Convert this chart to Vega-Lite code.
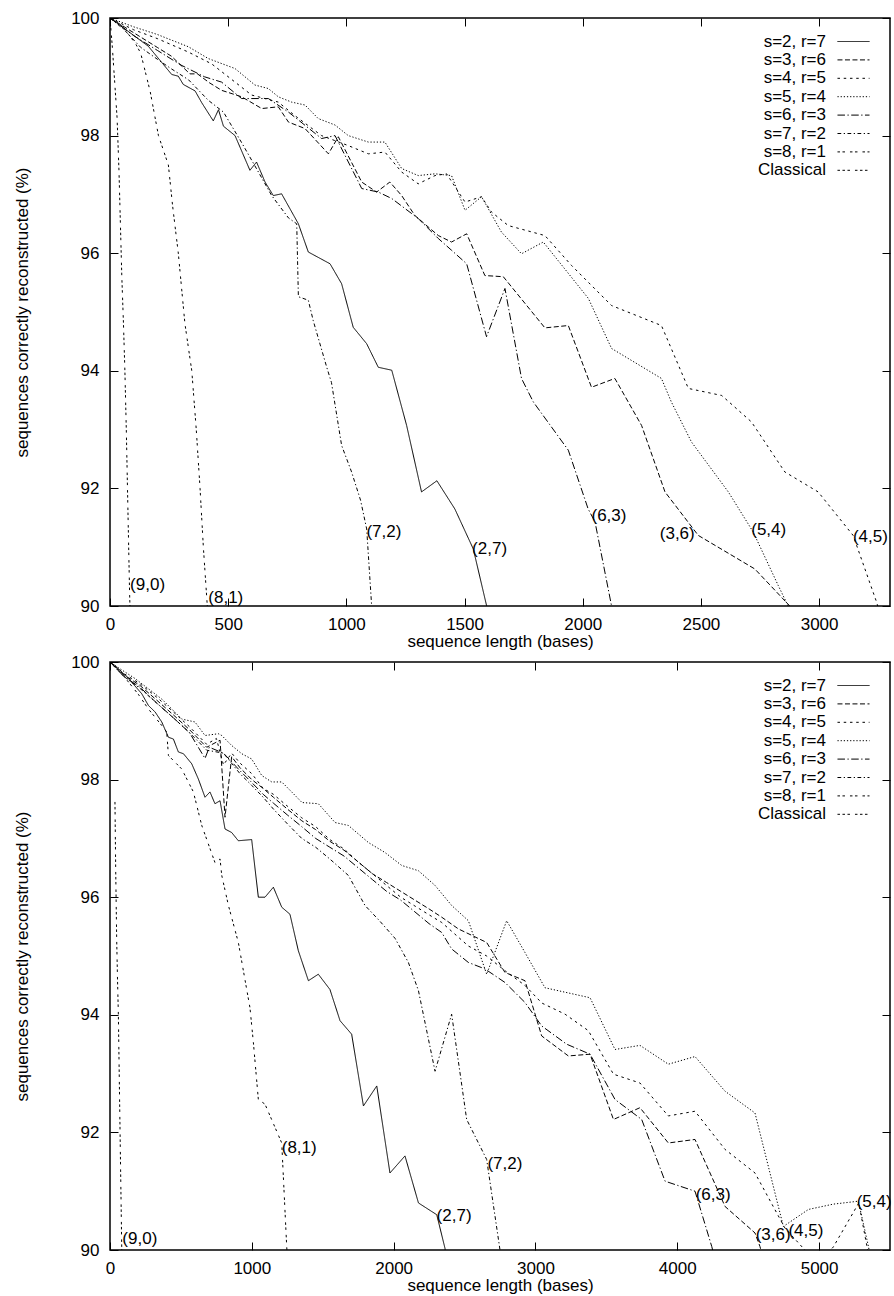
{
"$schema": "https://vega.github.io/schema/vega-lite/v6.json",
"background": "white",
"padding": {"left": 12, "top": 8, "right": 6, "bottom": 0},
"spacing": 56,
"bounds": "flush",
"datasets": {
"labels": [
{"p":"t","x":85,"y":90.36,"t":"(9,0)"},{"p":"t","x":416,"y":90.14,"t":"(8,1)"},{"p":"t","x":1085,"y":91.26,"t":"(7,2)"},{"p":"t","x":1532,"y":90.97,"t":"(2,7)"},{"p":"t","x":2037,"y":91.53,"t":"(6,3)"},{"p":"t","x":2326,"y":91.23,"t":"(3,6)"},{"p":"t","x":2713,"y":91.3,"t":"(5,4)"},{"p":"t","x":3143,"y":91.17,"t":"(4,5)"},
{"p":"b","x":87,"y":90.19,"t":"(9,0)"},{"p":"b","x":1211,"y":91.74,"t":"(8,1)"},{"p":"b","x":2303,"y":90.58,"t":"(2,7)"},{"p":"b","x":2661,"y":91.47,"t":"(7,2)"},{"p":"b","x":4130,"y":90.94,"t":"(6,3)"},{"p":"b","x":4553,"y":90.26,"t":"(3,6)"},{"p":"b","x":4784,"y":90.32,"t":"(4,5)"},{"p":"b","x":5265,"y":90.81,"t":"(5,4)"}
],
"curves": [
{"p":"t","s":"s=2, r=7","x":0,"y":100},{"p":"t","s":"s=2, r=7","x":21,"y":99.94},{"p":"t","s":"s=2, r=7","x":162,"y":99.52},{"p":"t","s":"s=2, r=7","x":261,"y":99.04},{"p":"t","s":"s=2, r=7","x":289,"y":99.01},{"p":"t","s":"s=2, r=7","x":310,"y":98.87},{"p":"t","s":"s=2, r=7","x":360,"y":98.76},{"p":"t","s":"s=2, r=7","x":388,"y":98.56},{"p":"t","s":"s=2, r=7","x":437,"y":98.25},{"p":"t","s":"s=2, r=7","x":459,"y":98.44},{"p":"t","s":"s=2, r=7","x":480,"y":98.16},{"p":"t","s":"s=2, r=7","x":529,"y":98.0},{"p":"t","s":"s=2, r=7","x":592,"y":97.41},{"p":"t","s":"s=2, r=7","x":620,"y":97.55},{"p":"t","s":"s=2, r=7","x":656,"y":97.21},{"p":"t","s":"s=2, r=7","x":691,"y":96.98},{"p":"t","s":"s=2, r=7","x":726,"y":97.01},{"p":"t","s":"s=2, r=7","x":797,"y":96.5},{"p":"t","s":"s=2, r=7","x":839,"y":96.02},{"p":"t","s":"s=2, r=7","x":931,"y":95.82},{"p":"t","s":"s=2, r=7","x":980,"y":95.48},{"p":"t","s":"s=2, r=7","x":1029,"y":94.74},{"p":"t","s":"s=2, r=7","x":1086,"y":94.46},{"p":"t","s":"s=2, r=7","x":1135,"y":94.06},{"p":"t","s":"s=2, r=7","x":1192,"y":94.01},{"p":"t","s":"s=2, r=7","x":1255,"y":93.07},{"p":"t","s":"s=2, r=7","x":1318,"y":91.94},{"p":"t","s":"s=2, r=7","x":1383,"y":92.13},{"p":"t","s":"s=2, r=7","x":1459,"y":91.65},{"p":"t","s":"s=2, r=7","x":1537,"y":90.97},{"p":"t","s":"s=2, r=7","x":1593,"y":90.01},{"p":"t","s":"s=2, r=7","x":1600,"y":89.88},
{"p":"t","s":"s=3, r=6","x":0,"y":100},{"p":"t","s":"s=3, r=6","x":100,"y":99.75},{"p":"t","s":"s=3, r=6","x":200,"y":99.5},{"p":"t","s":"s=3, r=6","x":260,"y":99.35},{"p":"t","s":"s=3, r=6","x":338,"y":99.05},{"p":"t","s":"s=3, r=6","x":370,"y":99.05},{"p":"t","s":"s=3, r=6","x":420,"y":98.9},{"p":"t","s":"s=3, r=6","x":472,"y":98.77},{"p":"t","s":"s=3, r=6","x":557,"y":98.66},{"p":"t","s":"s=3, r=6","x":642,"y":98.46},{"p":"t","s":"s=3, r=6","x":712,"y":98.49},{"p":"t","s":"s=3, r=6","x":755,"y":98.23},{"p":"t","s":"s=3, r=6","x":825,"y":98.12},{"p":"t","s":"s=3, r=6","x":924,"y":97.69},{"p":"t","s":"s=3, r=6","x":966,"y":97.98},{"p":"t","s":"s=3, r=6","x":1065,"y":97.21},{"p":"t","s":"s=3, r=6","x":1128,"y":97.04},{"p":"t","s":"s=3, r=6","x":1184,"y":97.21},{"p":"t","s":"s=3, r=6","x":1234,"y":96.98},{"p":"t","s":"s=3, r=6","x":1290,"y":96.64},{"p":"t","s":"s=3, r=6","x":1389,"y":96.3},{"p":"t","s":"s=3, r=6","x":1445,"y":96.19},{"p":"t","s":"s=3, r=6","x":1509,"y":96.33},{"p":"t","s":"s=3, r=6","x":1586,"y":95.62},{"p":"t","s":"s=3, r=6","x":1664,"y":95.6},{"p":"t","s":"s=3, r=6","x":1840,"y":94.73},{"p":"t","s":"s=3, r=6","x":1939,"y":94.77},{"p":"t","s":"s=3, r=6","x":2037,"y":93.72},{"p":"t","s":"s=3, r=6","x":2136,"y":93.87},{"p":"t","s":"s=3, r=6","x":2249,"y":93.07},{"p":"t","s":"s=3, r=6","x":2348,"y":91.94},{"p":"t","s":"s=3, r=6","x":2489,"y":91.2},{"p":"t","s":"s=3, r=6","x":2728,"y":90.63},{"p":"t","s":"s=3, r=6","x":2876,"y":90.0},{"p":"t","s":"s=3, r=6","x":2890,"y":89.9},
{"p":"t","s":"s=4, r=5","x":0,"y":100},{"p":"t","s":"s=4, r=5","x":100,"y":99.8},{"p":"t","s":"s=4, r=5","x":200,"y":99.65},{"p":"t","s":"s=4, r=5","x":332,"y":99.42},{"p":"t","s":"s=4, r=5","x":430,"y":99.22},{"p":"t","s":"s=4, r=5","x":529,"y":98.91},{"p":"t","s":"s=4, r=5","x":599,"y":98.69},{"p":"t","s":"s=4, r=5","x":712,"y":98.57},{"p":"t","s":"s=4, r=5","x":782,"y":98.34},{"p":"t","s":"s=4, r=5","x":895,"y":98.0},{"p":"t","s":"s=4, r=5","x":1008,"y":97.83},{"p":"t","s":"s=4, r=5","x":1093,"y":97.69},{"p":"t","s":"s=4, r=5","x":1163,"y":97.72},{"p":"t","s":"s=4, r=5","x":1234,"y":97.38},{"p":"t","s":"s=4, r=5","x":1304,"y":97.18},{"p":"t","s":"s=4, r=5","x":1375,"y":97.32},{"p":"t","s":"s=4, r=5","x":1424,"y":97.35},{"p":"t","s":"s=4, r=5","x":1502,"y":96.87},{"p":"t","s":"s=4, r=5","x":1572,"y":96.96},{"p":"t","s":"s=4, r=5","x":1614,"y":96.7},{"p":"t","s":"s=4, r=5","x":1685,"y":96.47},{"p":"t","s":"s=4, r=5","x":1840,"y":96.3},{"p":"t","s":"s=4, r=5","x":1953,"y":95.79},{"p":"t","s":"s=4, r=5","x":2122,"y":95.11},{"p":"t","s":"s=4, r=5","x":2333,"y":94.77},{"p":"t","s":"s=4, r=5","x":2447,"y":93.7},{"p":"t","s":"s=4, r=5","x":2588,"y":93.58},{"p":"t","s":"s=4, r=5","x":2714,"y":93.13},{"p":"t","s":"s=4, r=5","x":2855,"y":92.28},{"p":"t","s":"s=4, r=5","x":2996,"y":91.94},{"p":"t","s":"s=4, r=5","x":3144,"y":91.2},{"p":"t","s":"s=4, r=5","x":3243,"y":90.07},{"p":"t","s":"s=4, r=5","x":3255,"y":89.9},
{"p":"t","s":"s=5, r=4","x":0,"y":100},{"p":"t","s":"s=5, r=4","x":100,"y":99.85},{"p":"t","s":"s=5, r=4","x":200,"y":99.72},{"p":"t","s":"s=5, r=4","x":332,"y":99.51},{"p":"t","s":"s=5, r=4","x":416,"y":99.31},{"p":"t","s":"s=5, r=4","x":529,"y":99.14},{"p":"t","s":"s=5, r=4","x":613,"y":98.86},{"p":"t","s":"s=5, r=4","x":670,"y":98.8},{"p":"t","s":"s=5, r=4","x":712,"y":98.66},{"p":"t","s":"s=5, r=4","x":768,"y":98.57},{"p":"t","s":"s=5, r=4","x":825,"y":98.52},{"p":"t","s":"s=5, r=4","x":881,"y":98.29},{"p":"t","s":"s=5, r=4","x":952,"y":98.18},{"p":"t","s":"s=5, r=4","x":1008,"y":98.0},{"p":"t","s":"s=5, r=4","x":1093,"y":97.89},{"p":"t","s":"s=5, r=4","x":1163,"y":97.89},{"p":"t","s":"s=5, r=4","x":1234,"y":97.44},{"p":"t","s":"s=5, r=4","x":1304,"y":97.32},{"p":"t","s":"s=5, r=4","x":1375,"y":97.35},{"p":"t","s":"s=5, r=4","x":1445,"y":97.32},{"p":"t","s":"s=5, r=4","x":1502,"y":96.73},{"p":"t","s":"s=5, r=4","x":1572,"y":96.96},{"p":"t","s":"s=5, r=4","x":1656,"y":96.36},{"p":"t","s":"s=5, r=4","x":1741,"y":95.99},{"p":"t","s":"s=5, r=4","x":1833,"y":96.19},{"p":"t","s":"s=5, r=4","x":2024,"y":95.23},{"p":"t","s":"s=5, r=4","x":2122,"y":94.38},{"p":"t","s":"s=5, r=4","x":2333,"y":93.87},{"p":"t","s":"s=5, r=4","x":2375,"y":93.47},{"p":"t","s":"s=5, r=4","x":2460,"y":92.79},{"p":"t","s":"s=5, r=4","x":2616,"y":91.94},{"p":"t","s":"s=5, r=4","x":2721,"y":91.26},{"p":"t","s":"s=5, r=4","x":2827,"y":90.35},{"p":"t","s":"s=5, r=4","x":2869,"y":90.0},{"p":"t","s":"s=5, r=4","x":2880,"y":89.9},
{"p":"t","s":"s=6, r=3","x":0,"y":100},{"p":"t","s":"s=6, r=3","x":100,"y":99.7},{"p":"t","s":"s=6, r=3","x":200,"y":99.45},{"p":"t","s":"s=6, r=3","x":300,"y":99.2},{"p":"t","s":"s=6, r=3","x":400,"y":99.0},{"p":"t","s":"s=6, r=3","x":472,"y":98.91},{"p":"t","s":"s=6, r=3","x":557,"y":98.63},{"p":"t","s":"s=6, r=3","x":670,"y":98.63},{"p":"t","s":"s=6, r=3","x":755,"y":98.4},{"p":"t","s":"s=6, r=3","x":895,"y":97.95},{"p":"t","s":"s=6, r=3","x":952,"y":98.0},{"p":"t","s":"s=6, r=3","x":1065,"y":97.1},{"p":"t","s":"s=6, r=3","x":1135,"y":97.04},{"p":"t","s":"s=6, r=3","x":1192,"y":96.93},{"p":"t","s":"s=6, r=3","x":1304,"y":96.59},{"p":"t","s":"s=6, r=3","x":1389,"y":96.25},{"p":"t","s":"s=6, r=3","x":1445,"y":96.05},{"p":"t","s":"s=6, r=3","x":1509,"y":95.82},{"p":"t","s":"s=6, r=3","x":1593,"y":94.58},{"p":"t","s":"s=6, r=3","x":1671,"y":95.4},{"p":"t","s":"s=6, r=3","x":1741,"y":93.87},{"p":"t","s":"s=6, r=3","x":1791,"y":93.47},{"p":"t","s":"s=6, r=3","x":1939,"y":92.65},{"p":"t","s":"s=6, r=3","x":2023,"y":91.65},{"p":"t","s":"s=6, r=3","x":2052,"y":91.43},{"p":"t","s":"s=6, r=3","x":2122,"y":90.0},{"p":"t","s":"s=6, r=3","x":2130,"y":89.9},
{"p":"t","s":"s=7, r=2","x":0,"y":100},{"p":"t","s":"s=7, r=2","x":60,"y":99.8},{"p":"t","s":"s=7, r=2","x":130,"y":99.5},{"p":"t","s":"s=7, r=2","x":200,"y":99.3},{"p":"t","s":"s=7, r=2","x":254,"y":99.15},{"p":"t","s":"s=7, r=2","x":332,"y":98.95},{"p":"t","s":"s=7, r=2","x":416,"y":98.6},{"p":"t","s":"s=7, r=2","x":480,"y":98.4},{"p":"t","s":"s=7, r=2","x":557,"y":97.88},{"p":"t","s":"s=7, r=2","x":628,"y":97.38},{"p":"t","s":"s=7, r=2","x":684,"y":96.98},{"p":"t","s":"s=7, r=2","x":755,"y":96.6},{"p":"t","s":"s=7, r=2","x":790,"y":96.5},{"p":"t","s":"s=7, r=2","x":797,"y":95.26},{"p":"t","s":"s=7, r=2","x":839,"y":95.2},{"p":"t","s":"s=7, r=2","x":860,"y":94.85},{"p":"t","s":"s=7, r=2","x":917,"y":94.06},{"p":"t","s":"s=7, r=2","x":937,"y":93.8},{"p":"t","s":"s=7, r=2","x":980,"y":92.73},{"p":"t","s":"s=7, r=2","x":1022,"y":92.28},{"p":"t","s":"s=7, r=2","x":1060,"y":91.8},{"p":"t","s":"s=7, r=2","x":1086,"y":91.31},{"p":"t","s":"s=7, r=2","x":1107,"y":90.0},{"p":"t","s":"s=7, r=2","x":1110,"y":89.9},
{"p":"t","s":"s=8, r=1","x":0,"y":100},{"p":"t","s":"s=8, r=1","x":55,"y":99.85},{"p":"t","s":"s=8, r=1","x":110,"y":99.55},{"p":"t","s":"s=8, r=1","x":130,"y":99.4},{"p":"t","s":"s=8, r=1","x":170,"y":98.75},{"p":"t","s":"s=8, r=1","x":205,"y":98.0},{"p":"t","s":"s=8, r=1","x":247,"y":97.5},{"p":"t","s":"s=8, r=1","x":265,"y":96.8},{"p":"t","s":"s=8, r=1","x":289,"y":96.0},{"p":"t","s":"s=8, r=1","x":317,"y":94.8},{"p":"t","s":"s=8, r=1","x":346,"y":94.0},{"p":"t","s":"s=8, r=1","x":365,"y":93.0},{"p":"t","s":"s=8, r=1","x":381,"y":92.0},{"p":"t","s":"s=8, r=1","x":395,"y":91.0},{"p":"t","s":"s=8, r=1","x":410,"y":90.1},{"p":"t","s":"s=8, r=1","x":415,"y":89.8},
{"p":"t","s":"Classical","x":0,"y":100},{"p":"t","s":"Classical","x":10,"y":99.5},{"p":"t","s":"Classical","x":20,"y":98.9},{"p":"t","s":"Classical","x":30,"y":98.3},{"p":"t","s":"Classical","x":38,"y":97.4},{"p":"t","s":"Classical","x":44,"y":96.5},{"p":"t","s":"Classical","x":50,"y":95.6},{"p":"t","s":"Classical","x":57,"y":94.8},{"p":"t","s":"Classical","x":63,"y":94.0},{"p":"t","s":"Classical","x":69,"y":93.0},{"p":"t","s":"Classical","x":74,"y":92.0},{"p":"t","s":"Classical","x":79,"y":91.0},{"p":"t","s":"Classical","x":83,"y":90.2},{"p":"t","s":"Classical","x":86,"y":89.8},
{"p":"b","s":"s=2, r=7","x":0,"y":100},{"p":"b","s":"s=2, r=7","x":35,"y":99.94},{"p":"b","s":"s=2, r=7","x":130,"y":99.72},{"p":"b","s":"s=2, r=7","x":224,"y":99.46},{"p":"b","s":"s=2, r=7","x":271,"y":99.26},{"p":"b","s":"s=2, r=7","x":318,"y":99.15},{"p":"b","s":"s=2, r=7","x":365,"y":98.98},{"p":"b","s":"s=2, r=7","x":412,"y":98.72},{"p":"b","s":"s=2, r=7","x":447,"y":98.69},{"p":"b","s":"s=2, r=7","x":482,"y":98.47},{"p":"b","s":"s=2, r=7","x":518,"y":98.44},{"p":"b","s":"s=2, r=7","x":576,"y":98.27},{"p":"b","s":"s=2, r=7","x":623,"y":98.01},{"p":"b","s":"s=2, r=7","x":670,"y":97.7},{"p":"b","s":"s=2, r=7","x":705,"y":97.79},{"p":"b","s":"s=2, r=7","x":740,"y":97.59},{"p":"b","s":"s=2, r=7","x":776,"y":97.64},{"p":"b","s":"s=2, r=7","x":811,"y":97.16},{"p":"b","s":"s=2, r=7","x":858,"y":97.1},{"p":"b","s":"s=2, r=7","x":905,"y":96.96},{"p":"b","s":"s=2, r=7","x":999,"y":96.98},{"p":"b","s":"s=2, r=7","x":1046,"y":96.0},{"p":"b","s":"s=2, r=7","x":1093,"y":96.0},{"p":"b","s":"s=2, r=7","x":1152,"y":96.17},{"p":"b","s":"s=2, r=7","x":1211,"y":95.83},{"p":"b","s":"s=2, r=7","x":1269,"y":95.71},{"p":"b","s":"s=2, r=7","x":1328,"y":95.09},{"p":"b","s":"s=2, r=7","x":1399,"y":94.58},{"p":"b","s":"s=2, r=7","x":1469,"y":94.69},{"p":"b","s":"s=2, r=7","x":1551,"y":94.43},{"p":"b","s":"s=2, r=7","x":1622,"y":93.9},{"p":"b","s":"s=2, r=7","x":1704,"y":93.67},{"p":"b","s":"s=2, r=7","x":1787,"y":92.45},{"p":"b","s":"s=2, r=7","x":1881,"y":92.79},{"p":"b","s":"s=2, r=7","x":1974,"y":91.31},{"p":"b","s":"s=2, r=7","x":2080,"y":91.6},{"p":"b","s":"s=2, r=7","x":2175,"y":90.8},{"p":"b","s":"s=2, r=7","x":2304,"y":90.6},{"p":"b","s":"s=2, r=7","x":2362,"y":90.03},{"p":"b","s":"s=2, r=7","x":2370,"y":89.9},
{"p":"b","s":"s=3, r=6","x":0,"y":100},{"p":"b","s":"s=3, r=6","x":100,"y":99.78},{"p":"b","s":"s=3, r=6","x":212,"y":99.6},{"p":"b","s":"s=3, r=6","x":330,"y":99.35},{"p":"b","s":"s=3, r=6","x":447,"y":99.1},{"p":"b","s":"s=3, r=6","x":560,"y":98.85},{"p":"b","s":"s=3, r=6","x":682,"y":98.55},{"p":"b","s":"s=3, r=6","x":776,"y":98.67},{"p":"b","s":"s=3, r=6","x":811,"y":97.36},{"p":"b","s":"s=3, r=6","x":858,"y":98.39},{"p":"b","s":"s=3, r=6","x":917,"y":98.2},{"p":"b","s":"s=3, r=6","x":1000,"y":98.0},{"p":"b","s":"s=3, r=6","x":1080,"y":97.85},{"p":"b","s":"s=3, r=6","x":1152,"y":97.7},{"p":"b","s":"s=3, r=6","x":1250,"y":97.5},{"p":"b","s":"s=3, r=6","x":1352,"y":97.3},{"p":"b","s":"s=3, r=6","x":1450,"y":97.15},{"p":"b","s":"s=3, r=6","x":1550,"y":96.95},{"p":"b","s":"s=3, r=6","x":1650,"y":96.8},{"p":"b","s":"s=3, r=6","x":1750,"y":96.6},{"p":"b","s":"s=3, r=6","x":1850,"y":96.4},{"p":"b","s":"s=3, r=6","x":1950,"y":96.25},{"p":"b","s":"s=3, r=6","x":2050,"y":96.1},{"p":"b","s":"s=3, r=6","x":2150,"y":95.95},{"p":"b","s":"s=3, r=6","x":2250,"y":95.8},{"p":"b","s":"s=3, r=6","x":2339,"y":95.66},{"p":"b","s":"s=3, r=6","x":2457,"y":95.46},{"p":"b","s":"s=3, r=6","x":2656,"y":95.23},{"p":"b","s":"s=3, r=6","x":2785,"y":94.72},{"p":"b","s":"s=3, r=6","x":2926,"y":94.58},{"p":"b","s":"s=3, r=6","x":3044,"y":93.64},{"p":"b","s":"s=3, r=6","x":3232,"y":93.3},{"p":"b","s":"s=3, r=6","x":3385,"y":93.33},{"p":"b","s":"s=3, r=6","x":3550,"y":92.22},{"p":"b","s":"s=3, r=6","x":3737,"y":92.42},{"p":"b","s":"s=3, r=6","x":3937,"y":91.82},{"p":"b","s":"s=3, r=6","x":4125,"y":91.88},{"p":"b","s":"s=3, r=6","x":4337,"y":90.74},{"p":"b","s":"s=3, r=6","x":4548,"y":90.29},{"p":"b","s":"s=3, r=6","x":4583,"y":90.06},{"p":"b","s":"s=3, r=6","x":4600,"y":89.9},
{"p":"b","s":"s=4, r=5","x":0,"y":100},{"p":"b","s":"s=4, r=5","x":100,"y":99.8},{"p":"b","s":"s=4, r=5","x":212,"y":99.63},{"p":"b","s":"s=4, r=5","x":330,"y":99.4},{"p":"b","s":"s=4, r=5","x":447,"y":99.15},{"p":"b","s":"s=4, r=5","x":560,"y":98.9},{"p":"b","s":"s=4, r=5","x":682,"y":98.6},{"p":"b","s":"s=4, r=5","x":750,"y":98.7},{"p":"b","s":"s=4, r=5","x":800,"y":98.25},{"p":"b","s":"s=4, r=5","x":858,"y":98.45},{"p":"b","s":"s=4, r=5","x":917,"y":98.28},{"p":"b","s":"s=4, r=5","x":1000,"y":98.1},{"p":"b","s":"s=4, r=5","x":1080,"y":97.85},{"p":"b","s":"s=4, r=5","x":1152,"y":97.75},{"p":"b","s":"s=4, r=5","x":1250,"y":97.55},{"p":"b","s":"s=4, r=5","x":1352,"y":97.35},{"p":"b","s":"s=4, r=5","x":1450,"y":97.2},{"p":"b","s":"s=4, r=5","x":1550,"y":96.98},{"p":"b","s":"s=4, r=5","x":1650,"y":96.82},{"p":"b","s":"s=4, r=5","x":1750,"y":96.6},{"p":"b","s":"s=4, r=5","x":1850,"y":96.4},{"p":"b","s":"s=4, r=5","x":1950,"y":96.2},{"p":"b","s":"s=4, r=5","x":2050,"y":96.0},{"p":"b","s":"s=4, r=5","x":2150,"y":95.85},{"p":"b","s":"s=4, r=5","x":2250,"y":95.7},{"p":"b","s":"s=4, r=5","x":2339,"y":95.57},{"p":"b","s":"s=4, r=5","x":2527,"y":95.17},{"p":"b","s":"s=4, r=5","x":2656,"y":95.0},{"p":"b","s":"s=4, r=5","x":2785,"y":94.75},{"p":"b","s":"s=4, r=5","x":2926,"y":94.5},{"p":"b","s":"s=4, r=5","x":3045,"y":94.2},{"p":"b","s":"s=4, r=5","x":3209,"y":94.01},{"p":"b","s":"s=4, r=5","x":3373,"y":93.73},{"p":"b","s":"s=4, r=5","x":3550,"y":92.99},{"p":"b","s":"s=4, r=5","x":3737,"y":92.84},{"p":"b","s":"s=4, r=5","x":3937,"y":92.28},{"p":"b","s":"s=4, r=5","x":4125,"y":92.36},{"p":"b","s":"s=4, r=5","x":4337,"y":91.71},{"p":"b","s":"s=4, r=5","x":4548,"y":91.31},{"p":"b","s":"s=4, r=5","x":4760,"y":90.37},{"p":"b","s":"s=4, r=5","x":4900,"y":90.0},{"p":"b","s":"s=4, r=5","x":5000,"y":89.8},{"p":"b","s":"s=4, r=5","x":5100,"y":90.05},{"p":"b","s":"s=4, r=5","x":5280,"y":90.8},{"p":"b","s":"s=4, r=5","x":5350,"y":89.9},
{"p":"b","s":"s=5, r=4","x":0,"y":100},{"p":"b","s":"s=5, r=4","x":35,"y":99.94},{"p":"b","s":"s=5, r=4","x":176,"y":99.72},{"p":"b","s":"s=5, r=4","x":365,"y":99.37},{"p":"b","s":"s=5, r=4","x":506,"y":99.03},{"p":"b","s":"s=5, r=4","x":599,"y":98.98},{"p":"b","s":"s=5, r=4","x":670,"y":98.75},{"p":"b","s":"s=5, r=4","x":764,"y":98.78},{"p":"b","s":"s=5, r=4","x":788,"y":98.75},{"p":"b","s":"s=5, r=4","x":858,"y":98.58},{"p":"b","s":"s=5, r=4","x":929,"y":98.44},{"p":"b","s":"s=5, r=4","x":999,"y":98.35},{"p":"b","s":"s=5, r=4","x":1070,"y":98.07},{"p":"b","s":"s=5, r=4","x":1140,"y":97.96},{"p":"b","s":"s=5, r=4","x":1211,"y":97.96},{"p":"b","s":"s=5, r=4","x":1281,"y":97.79},{"p":"b","s":"s=5, r=4","x":1354,"y":97.61},{"p":"b","s":"s=5, r=4","x":1469,"y":97.59},{"p":"b","s":"s=5, r=4","x":1587,"y":97.27},{"p":"b","s":"s=5, r=4","x":1681,"y":97.22},{"p":"b","s":"s=5, r=4","x":1822,"y":96.93},{"p":"b","s":"s=5, r=4","x":1939,"y":96.76},{"p":"b","s":"s=5, r=4","x":2057,"y":96.54},{"p":"b","s":"s=5, r=4","x":2175,"y":96.45},{"p":"b","s":"s=5, r=4","x":2292,"y":96.2},{"p":"b","s":"s=5, r=4","x":2409,"y":95.86},{"p":"b","s":"s=5, r=4","x":2527,"y":95.6},{"p":"b","s":"s=5, r=4","x":2656,"y":94.69},{"p":"b","s":"s=5, r=4","x":2797,"y":95.6},{"p":"b","s":"s=5, r=4","x":2926,"y":95.06},{"p":"b","s":"s=5, r=4","x":3067,"y":94.46},{"p":"b","s":"s=5, r=4","x":3385,"y":94.29},{"p":"b","s":"s=5, r=4","x":3561,"y":93.41},{"p":"b","s":"s=5, r=4","x":3737,"y":93.48},{"p":"b","s":"s=5, r=4","x":3937,"y":93.16},{"p":"b","s":"s=5, r=4","x":4125,"y":93.29},{"p":"b","s":"s=5, r=4","x":4337,"y":92.7},{"p":"b","s":"s=5, r=4","x":4548,"y":92.33},{"p":"b","s":"s=5, r=4","x":4748,"y":90.4},{"p":"b","s":"s=5, r=4","x":4925,"y":90.69},{"p":"b","s":"s=5, r=4","x":5100,"y":90.78},{"p":"b","s":"s=5, r=4","x":5277,"y":90.83},{"p":"b","s":"s=5, r=4","x":5348,"y":90.06},{"p":"b","s":"s=5, r=4","x":5360,"y":89.9},
{"p":"b","s":"s=6, r=3","x":0,"y":100},{"p":"b","s":"s=6, r=3","x":100,"y":99.75},{"p":"b","s":"s=6, r=3","x":212,"y":99.57},{"p":"b","s":"s=6, r=3","x":330,"y":99.3},{"p":"b","s":"s=6, r=3","x":447,"y":99.05},{"p":"b","s":"s=6, r=3","x":560,"y":98.8},{"p":"b","s":"s=6, r=3","x":670,"y":98.36},{"p":"b","s":"s=6, r=3","x":700,"y":98.55},{"p":"b","s":"s=6, r=3","x":800,"y":98.45},{"p":"b","s":"s=6, r=3","x":917,"y":98.15},{"p":"b","s":"s=6, r=3","x":1000,"y":97.95},{"p":"b","s":"s=6, r=3","x":1080,"y":97.75},{"p":"b","s":"s=6, r=3","x":1152,"y":97.6},{"p":"b","s":"s=6, r=3","x":1250,"y":97.4},{"p":"b","s":"s=6, r=3","x":1352,"y":97.2},{"p":"b","s":"s=6, r=3","x":1450,"y":97.0},{"p":"b","s":"s=6, r=3","x":1550,"y":96.85},{"p":"b","s":"s=6, r=3","x":1650,"y":96.7},{"p":"b","s":"s=6, r=3","x":1750,"y":96.5},{"p":"b","s":"s=6, r=3","x":1850,"y":96.3},{"p":"b","s":"s=6, r=3","x":1950,"y":96.1},{"p":"b","s":"s=6, r=3","x":2050,"y":95.95},{"p":"b","s":"s=6, r=3","x":2150,"y":95.75},{"p":"b","s":"s=6, r=3","x":2250,"y":95.55},{"p":"b","s":"s=6, r=3","x":2339,"y":95.4},{"p":"b","s":"s=6, r=3","x":2409,"y":95.12},{"p":"b","s":"s=6, r=3","x":2527,"y":94.89},{"p":"b","s":"s=6, r=3","x":2644,"y":94.78},{"p":"b","s":"s=6, r=3","x":2785,"y":94.55},{"p":"b","s":"s=6, r=3","x":2926,"y":94.21},{"p":"b","s":"s=6, r=3","x":3044,"y":93.81},{"p":"b","s":"s=6, r=3","x":3220,"y":93.5},{"p":"b","s":"s=6, r=3","x":3385,"y":93.33},{"p":"b","s":"s=6, r=3","x":3561,"y":92.56},{"p":"b","s":"s=6, r=3","x":3749,"y":92.22},{"p":"b","s":"s=6, r=3","x":3914,"y":91.17},{"p":"b","s":"s=6, r=3","x":4125,"y":91.0},{"p":"b","s":"s=6, r=3","x":4243,"y":90.06},{"p":"b","s":"s=6, r=3","x":4260,"y":89.9},
{"p":"b","s":"s=7, r=2","x":0,"y":100},{"p":"b","s":"s=7, r=2","x":100,"y":99.75},{"p":"b","s":"s=7, r=2","x":212,"y":99.55},{"p":"b","s":"s=7, r=2","x":330,"y":99.3},{"p":"b","s":"s=7, r=2","x":447,"y":99.05},{"p":"b","s":"s=7, r=2","x":560,"y":98.8},{"p":"b","s":"s=7, r=2","x":682,"y":98.5},{"p":"b","s":"s=7, r=2","x":800,"y":98.45},{"p":"b","s":"s=7, r=2","x":917,"y":98.1},{"p":"b","s":"s=7, r=2","x":1000,"y":97.9},{"p":"b","s":"s=7, r=2","x":1080,"y":97.7},{"p":"b","s":"s=7, r=2","x":1152,"y":97.5},{"p":"b","s":"s=7, r=2","x":1250,"y":97.25},{"p":"b","s":"s=7, r=2","x":1352,"y":97.0},{"p":"b","s":"s=7, r=2","x":1450,"y":96.85},{"p":"b","s":"s=7, r=2","x":1550,"y":96.65},{"p":"b","s":"s=7, r=2","x":1681,"y":96.37},{"p":"b","s":"s=7, r=2","x":1798,"y":95.86},{"p":"b","s":"s=7, r=2","x":1900,"y":95.6},{"p":"b","s":"s=7, r=2","x":2010,"y":95.3},{"p":"b","s":"s=7, r=2","x":2104,"y":94.89},{"p":"b","s":"s=7, r=2","x":2175,"y":94.41},{"p":"b","s":"s=7, r=2","x":2292,"y":93.04},{"p":"b","s":"s=7, r=2","x":2409,"y":94.01},{"p":"b","s":"s=7, r=2","x":2515,"y":92.22},{"p":"b","s":"s=7, r=2","x":2656,"y":91.54},{"p":"b","s":"s=7, r=2","x":2750,"y":90.0},{"p":"b","s":"s=7, r=2","x":2760,"y":89.9},
{"p":"b","s":"s=8, r=1","x":0,"y":100},{"p":"b","s":"s=8, r=1","x":100,"y":99.75},{"p":"b","s":"s=8, r=1","x":200,"y":99.45},{"p":"b","s":"s=8, r=1","x":271,"y":99.2},{"p":"b","s":"s=8, r=1","x":365,"y":98.92},{"p":"b","s":"s=8, r=1","x":400,"y":98.81},{"p":"b","s":"s=8, r=1","x":412,"y":98.41},{"p":"b","s":"s=8, r=1","x":506,"y":98.18},{"p":"b","s":"s=8, r=1","x":588,"y":97.79},{"p":"b","s":"s=8, r=1","x":647,"y":97.22},{"p":"b","s":"s=8, r=1","x":740,"y":96.59},{"p":"b","s":"s=8, r=1","x":776,"y":96.65},{"p":"b","s":"s=8, r=1","x":788,"y":96.37},{"p":"b","s":"s=8, r=1","x":835,"y":95.86},{"p":"b","s":"s=8, r=1","x":905,"y":95.23},{"p":"b","s":"s=8, r=1","x":987,"y":94.12},{"p":"b","s":"s=8, r=1","x":1011,"y":93.53},{"p":"b","s":"s=8, r=1","x":1046,"y":92.56},{"p":"b","s":"s=8, r=1","x":1093,"y":92.48},{"p":"b","s":"s=8, r=1","x":1211,"y":91.82},{"p":"b","s":"s=8, r=1","x":1246,"y":90.06},{"p":"b","s":"s=8, r=1","x":1250,"y":89.9},
{"p":"b","s":"Classical","x":35,"y":97.62},{"p":"b","s":"Classical","x":40,"y":96.5},{"p":"b","s":"Classical","x":47,"y":95.3},{"p":"b","s":"Classical","x":53,"y":94.6},{"p":"b","s":"Classical","x":59,"y":94.0},{"p":"b","s":"Classical","x":65,"y":93.0},{"p":"b","s":"Classical","x":71,"y":92.0},{"p":"b","s":"Classical","x":77,"y":91.0},{"p":"b","s":"Classical","x":83,"y":90.0},{"p":"b","s":"Classical","x":85,"y":89.8}
]
},
"vconcat": [
{
"width": 780, "height": 588,
"layer": [
{"data": {"name": "curves"}, "transform": [{"filter": "datum.p == 't'"}],
 "mark": {"type": "line", "clip": true, "color": "black", "strokeWidth": 1},
 "encoding": {
  "x": {"field": "x", "type": "quantitative", "scale": {"domain": [0, 3300], "nice": false, "zero": false}, "axis": {"values": [0,500,1000,1500,2000,2500,3000], "format": "d", "title": "sequence length (bases)"}},
  "y": {"field": "y", "type": "quantitative", "scale": {"domain": [90, 100], "nice": false, "zero": false}, "axis": {"values": [90,92,94,96,98,100], "format": "d", "title": "sequences correctly reconstructed (%)"}},
  "strokeDash": {"field": "s", "type": "nominal",
   "scale": {"domain": ["s=2, r=7","s=3, r=6","s=4, r=5","s=5, r=4","s=6, r=3","s=7, r=2","s=8, r=1","Classical"],
             "range": [[1,0],[5,2.5],[2.5,3.75],[1.25,1.9],[7.5,2.5,1.25,2.5],[3.75,2.5,1.25,2.5],[2.5,2.5,2.5,5],[2.5,2.5,2.5,2.5,2.5,5]]},
   "legend": {"orient": "none", "legendX": 734, "legendY": 14}}
 }},
{"data": {"name": "labels"}, "transform": [{"filter": "datum.p == 't'"}],
 "mark": {"type": "text", "align": "left", "baseline": "middle", "fontSize": 17, "color": "black"},
 "encoding": {
  "x": {"field": "x", "type": "quantitative", "scale": {"domain": [0, 3300], "nice": false, "zero": false}, "axis": {"orient": "top", "labels": false, "title": null, "values": [0,500,1000,1500,2000,2500,3000]}},
  "y": {"field": "y", "type": "quantitative", "scale": {"domain": [90, 100], "nice": false, "zero": false}, "axis": {"orient": "right", "labels": false, "title": null, "values": [90,92,94,96,98,100]}},
  "text": {"field": "t"}
 }}
],
"resolve": {"axis": {"x": "independent", "y": "independent"}}
},
{
"width": 780, "height": 588,
"layer": [
{"data": {"name": "curves"}, "transform": [{"filter": "datum.p == 'b'"}],
 "mark": {"type": "line", "clip": true, "color": "black", "strokeWidth": 1},
 "encoding": {
  "x": {"field": "x", "type": "quantitative", "scale": {"domain": [0, 5500], "nice": false, "zero": false}, "axis": {"values": [0,1000,2000,3000,4000,5000], "format": "d", "title": "sequence length (bases)"}},
  "y": {"field": "y", "type": "quantitative", "scale": {"domain": [90, 100], "nice": false, "zero": false}, "axis": {"values": [90,92,94,96,98,100], "format": "d", "title": "sequences correctly reconstructed (%)"}},
  "strokeDash": {"field": "s", "type": "nominal",
   "scale": {"domain": ["s=2, r=7","s=3, r=6","s=4, r=5","s=5, r=4","s=6, r=3","s=7, r=2","s=8, r=1","Classical"],
             "range": [[1,0],[5,2.5],[2.5,3.75],[1.25,1.9],[7.5,2.5,1.25,2.5],[3.75,2.5,1.25,2.5],[2.5,2.5,2.5,5],[2.5,2.5,2.5,2.5,2.5,5]]},
   "legend": {"orient": "none", "legendX": 734, "legendY": 14}}
 }},
{"data": {"name": "labels"}, "transform": [{"filter": "datum.p == 'b'"}],
 "mark": {"type": "text", "align": "left", "baseline": "middle", "fontSize": 17, "color": "black"},
 "encoding": {
  "x": {"field": "x", "type": "quantitative", "scale": {"domain": [0, 5500], "nice": false, "zero": false}, "axis": {"orient": "top", "labels": false, "title": null, "values": [0,1000,2000,3000,4000,5000]}},
  "y": {"field": "y", "type": "quantitative", "scale": {"domain": [90, 100], "nice": false, "zero": false}, "axis": {"orient": "right", "labels": false, "title": null, "values": [90,92,94,96,98,100]}},
  "text": {"field": "t"}
 }}
],
"resolve": {"axis": {"x": "independent", "y": "independent"}}
}
],
"resolve": {"legend": {"strokeDash": "independent"}},
"config": {
 "font": "Liberation Sans",
 "view": {"stroke": "black", "strokeWidth": 1.5},
 "axis": {"grid": false, "domain": false, "ticks": true, "tickSize": -8, "tickColor": "black", "tickWidth": 1,
          "labelFont": "Liberation Sans", "labelFontSize": 17, "labelColor": "black", "labelFlush": false, "labelOverlap": false,
          "titleFont": "Liberation Sans", "titleFontSize": 17, "titleFontWeight": "normal", "titleColor": "black"},
 "axisX": {"labelPadding": 18, "titleY": 27},
 "axisY": {"labelPadding": 19, "titleX": -88, "titleBaseline": "middle"},
 "legend": {"title": null, "symbolType": "M-1.78,0H1.78", "symbolSize": 324, "symbolStrokeWidth": 1, "symbolStrokeColor": "black", "symbolFillColor": "transparent", "symbolOffset": 0,
            "labelAlign": "right", "labelOffset": -37, "labelFont": "Liberation Sans", "labelFontSize": 17, "labelColor": "black",
            "rowPadding": 0.4, "padding": 0, "labelLimit": 250},
 "text": {"font": "Liberation Sans", "fontSize": 17, "color": "black"}
}
}
